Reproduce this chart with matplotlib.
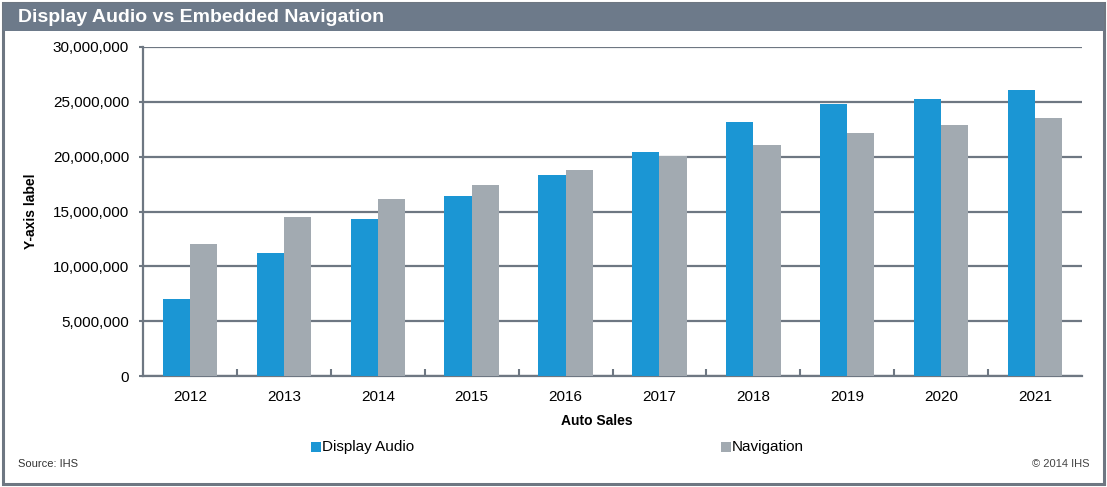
import matplotlib
matplotlib.use("Agg")
import matplotlib.pyplot as plt
from matplotlib.patches import Rectangle
from matplotlib.ticker import FuncFormatter, FixedLocator
import numpy as np

plt.rcParams['font.family'] = ['Liberation Sans', 'DejaVu Sans']

years = ["2012", "2013", "2014", "2015", "2016", "2017", "2018", "2019", "2020", "2021"]
display_audio = [7.0e6, 11.2e6, 14.3e6, 16.4e6, 18.3e6, 20.4e6, 23.2e6, 24.8e6, 25.3e6, 26.1e6]
navigation = [12.0e6, 14.5e6, 16.1e6, 17.4e6, 18.8e6, 20.05e6, 21.1e6, 22.2e6, 22.9e6, 23.5e6]

c_da = "#1B96D4"
c_nav = "#A2AAB1"
c_grid = "#6E7782"

W, H = 1107, 487
fig = plt.figure(figsize=(W/100, H/100), dpi=100)

# Frame and title bar
fig.patches.append(Rectangle((3/W, 3/H), (W-6)/W, (H-6)/H, transform=fig.transFigure,
                             fill=False, edgecolor=c_grid, linewidth=2.2, zorder=0))
fig.patches.append(Rectangle((3/W, 1-31/H), (W-6)/W, 28/H, transform=fig.transFigure,
                             facecolor="#6D7A8A", edgecolor="none", zorder=1))
fig.text(18/W, 1-17/H, "Display Audio vs Embedded Navigation", color="white",
         fontsize=14, fontweight="bold", va="center", ha="left")

ax = fig.add_axes([143/W, 1-376/H, 939/W, 329/H])
x = np.arange(len(years))
bw = 0.29
ax.bar(x - bw/2, display_audio, bw, color=c_da, label="Display Audio", zorder=3)
ax.bar(x + bw/2, navigation, bw, color=c_nav, label="Navigation", zorder=3)

ax.set_xlim(-0.5, len(years) - 0.5)
ax.set_ylim(0, 30e6)
ax.set_yticks(np.arange(0, 30e6 + 1, 5e6))
ax.yaxis.set_major_formatter(FuncFormatter(lambda v, p: f"{int(v):,}"))
ax.set_xticks(x)
ax.set_xticklabels(years)
ax.xaxis.set_minor_locator(FixedLocator(np.arange(0.5, len(years) - 0.5, 1)))
ax.tick_params(axis='x', which='major', length=0, labelsize=11, pad=10)
ax.tick_params(axis='x', which='minor', length=5, direction='in', color=c_grid, width=1.5)
ax.tick_params(axis='y', length=3, color=c_grid, width=1.5, labelsize=11, pad=7)

ax.grid(axis='y', color=c_grid, linewidth=1.6, zorder=1)
for s in ["top", "right"]:
    ax.spines[s].set_visible(False)
for s in ["left", "bottom"]:
    ax.spines[s].set_color(c_grid)
    ax.spines[s].set_linewidth(1.6)

ax.set_xlabel("Auto Sales", fontsize=10, fontweight="bold")
ax.xaxis.set_label_coords((597-143)/939, -(421-376)/329)
ax.xaxis.label.set_va("center")
ax.set_ylabel("Y-axis label", fontsize=10, fontweight="bold")
ax.yaxis.set_label_coords(-(143-31)/939, 0.5)
ax.yaxis.label.set_va("center")

# Legend
fig.patches.append(Rectangle((311/W, 1-452/H), 10/W, 10/H, transform=fig.transFigure,
                             facecolor=c_da, edgecolor="none"))
fig.text(322/W, 1-447/H, "Display Audio", fontsize=11, va="center", ha="left")
fig.patches.append(Rectangle((721/W, 1-452/H), 10/W, 10/H, transform=fig.transFigure,
                             facecolor=c_nav, edgecolor="none"))
fig.text(732/W, 1-447/H, "Navigation", fontsize=11, va="center", ha="left")

fig.text(18/W, 1-464/H, "Source: IHS", fontsize=8, va="center", ha="left", color="#333333")
fig.text(1090/W, 1-464/H, "© 2014 IHS", fontsize=8, va="center", ha="right", color="#444444")

fig.savefig("out.png", dpi=100)
